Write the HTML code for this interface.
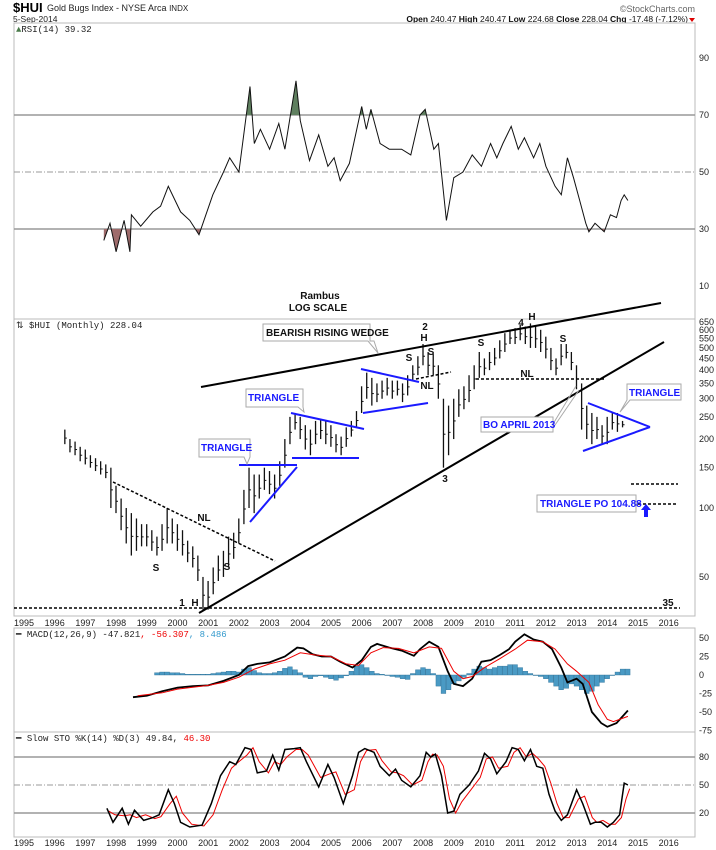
<!DOCTYPE html>
<html><head><meta charset="utf-8"><style>
body{margin:0;background:#fff}
svg{display:block;font-family:"Liberation Sans",sans-serif}
.ax{font-size:9px;fill:#222}
.an{font-size:10px;font-weight:bold;fill:#111}
.bl{font-size:10px;font-weight:bold;fill:#1a1aff}
</style></head><body>
<svg id="c" width="716" height="850" viewBox="0 0 716 850">
<rect width="716" height="850" fill="#fff"/>
<text x="13" y="12" font-size="13" font-weight="bold">$HUI</text>
<text x="47" y="11" font-size="9" fill="#222">Gold Bugs Index - NYSE Arca <tspan font-size="8">INDX</tspan></text>
<text x="13" y="22" font-size="8.5" fill="#222">5-Sep-2014</text>
<text x="695" y="12" font-size="9" fill="#666" text-anchor="end">©StockCharts.com</text>
<text x="688" y="22" font-size="8.5" fill="#111" text-anchor="end"><tspan font-weight="bold">Open</tspan> 240.47 <tspan font-weight="bold">High</tspan> 240.47 <tspan font-weight="bold">Low</tspan> 224.68 <tspan font-weight="bold">Close</tspan> 228.04 <tspan font-weight="bold">Chg</tspan> -17.48 (-7.12%)</text>
<polygon points="689,18 695,18 692,22" fill="#d00"/>
<g id="frames" fill="none" stroke="#bbb" stroke-width="1">
<rect x="14" y="23" width="681" height="296"/>
<rect x="14" y="319" width="681" height="297"/>
<rect x="14" y="628" width="681" height="104"/>
<rect x="14" y="732" width="681" height="105"/>
</g>
<text x="16" y="32" font-size="9" font-family="Liberation Mono" fill="#222"><tspan fill="#4a7a4a">▲</tspan>RSI(14) 39.32</text>
<text x="16" y="328" font-size="9" font-family="Liberation Mono" fill="#222">⇅ $HUI (Monthly) 228.04</text>
<text x="16" y="637" font-size="9" font-family="Liberation Mono" fill="#222">━ MACD(12,26,9) -47.821<tspan fill="#e00">, -56.307</tspan><tspan fill="#3399cc">, 8.486</tspan></text>
<text x="16" y="741" font-size="9" font-family="Liberation Mono" fill="#222">━ Slow STO %K(14) %D(3) 49.84, <tspan fill="#e00">46.30</tspan></text>
<text x="320" y="299" class="an" text-anchor="middle" font-size="9">Rambus</text>
<text x="318" y="311" class="an" text-anchor="middle" font-size="9">LOG SCALE</text>
<g id="rsi"></g><g id="price"></g><g id="macd"></g><g id="sto"></g><g id="axes"></g>
<g id="annot">
<line x1="201" y1="387" x2="661" y2="303" stroke="#000" stroke-width="2"/>
<line x1="199" y1="613" x2="664" y2="342" stroke="#000" stroke-width="2"/>
<line x1="113" y1="482" x2="275" y2="561" stroke="#000" stroke-width="1.5" stroke-dasharray="3,2"/>
<line x1="416" y1="379" x2="451" y2="372" stroke="#000" stroke-width="1.5" stroke-dasharray="3,2"/>
<line x1="476" y1="379" x2="604" y2="379" stroke="#000" stroke-width="1.5" stroke-dasharray="3,2"/>
<line x1="14" y1="608" x2="680" y2="608" stroke="#000" stroke-width="1.5" stroke-dasharray="3,2"/>
<line x1="631" y1="484" x2="678" y2="484" stroke="#000" stroke-width="1.5" stroke-dasharray="3,2"/>
<line x1="638" y1="504" x2="678" y2="504" stroke="#000" stroke-width="1.5" stroke-dasharray="3,2"/>
<polygon points="646,504 641,510 644,510 644,517 648,517 648,510 651,510" fill="#1a1aff"/>
<g stroke="#1a1aff" stroke-width="2">
<line x1="588" y1="403" x2="650" y2="427"/>
<line x1="583" y1="451" x2="650" y2="427"/>
<line x1="361" y1="369" x2="419" y2="382"/>
<line x1="363" y1="413" x2="428" y2="403"/>
<line x1="291" y1="413" x2="364" y2="429"/>
<line x1="292" y1="458" x2="359" y2="458"/>
<line x1="239" y1="465" x2="297" y2="465"/>
<line x1="250" y1="522" x2="297" y2="467"/>
</g>
<g fill="#fff" stroke="#aaa" stroke-width="1">
<path d="M263,324 H370 V341 H374 L378,353 L368,341 H263 Z"/>
<path d="M199,439 H250 V457 L247,464 L244,457 H199 Z"/>
<path d="M246,389 H303 V407 L304,412 L298,407 H246 Z"/>
<path d="M481,417 H553 V432 H481 Z"/>
<path d="M553,424 L576,386 M553,428 L579,390"/>
<path d="M627,384 H681 V400 H630 L620,412 L627,400 Z"/>
<path d="M537,495 H636 V512 H537 Z"/>
</g>
<text x="266" y="336" class="an" font-size="9">BEARISH RISING WEDGE</text>
<text x="201" y="451" class="bl">TRIANGLE</text>
<text x="248" y="401" class="bl">TRIANGLE</text>
<text x="483" y="428" class="bl" font-size="9">BO APRIL 2013</text>
<text x="629" y="396" class="bl">TRIANGLE</text>
<text x="540" y="507" class="bl" font-size="9">TRIANGLE PO 104.88</text>
<g class="an" font-size="9" text-anchor="middle">
<text x="425" y="330">2</text>
<text x="424" y="341">H</text>
<text x="409" y="361">S</text>
<text x="431" y="355">S</text>
<text x="427" y="389">NL</text>
<text x="521" y="326">4</text>
<text x="532" y="320">H</text>
<text x="481" y="346">S</text>
<text x="563" y="342">S</text>
<text x="527" y="377">NL</text>
<text x="445" y="482">3</text>
<text x="204" y="521">NL</text>
<text x="156" y="571">S</text>
<text x="227" y="570">S</text>
<text x="182" y="606">1</text>
<text x="195" y="606">H</text>
<text x="668" y="606">35</text>
</g>
</g>
</svg>
<script>
// ---- data ----
const priceStart = 1996.33;
const priceHigh = [220,200,195,185,
180,170,165,160,155,150,
125,110,100,95,90,85,
85,80,75,85,100,90,
85,80,72,68,62,50,
48,55,62,65,75,78,
90,120,150,140,140,150,
145,140,160,200,250,260,
250,230,220,240,245,240,
230,210,205,225,240,265,
340,390,370,350,360,370,
360,360,350,380,420,460,
520,480,470,420,300,280,
300,330,340,380,420,480,
450,480,500,540,580,600,
610,630,620,640,620,600,
560,500,450,520,520,480,
420,350,280,260,250,230,
250,260,260,240];
const priceLow = [190,175,170,160,
155,150,145,140,135,100,
95,80,70,62,65,68,
68,65,62,65,70,70,
65,62,58,55,48,36,
36,42,48,50,55,60,
70,85,100,95,110,120,
115,110,125,150,190,220,
200,180,170,190,200,190,
185,175,170,185,205,225,
260,300,280,290,300,310,
300,310,290,310,360,380,
420,380,380,300,150,170,
200,250,270,290,330,370,
380,400,420,450,480,520,
520,540,520,500,500,480,
450,400,380,420,450,400,
330,220,200,190,200,190,
190,220,215,225];
const rsiDates = [1997.6,1997.8,1998.0,1998.26,1998.45,1998.5,1998.8,1999.2,1999.45,1999.7,2000.1,2000.4,2000.7,2001.15,2001.5,2001.7,2002.0,2002.36,2002.5,2002.7,2003.0,2003.3,2003.5,2003.86,2004.0,2004.3,2004.6,2004.9,2005.1,2005.3,2005.6,2006.0,2006.15,2006.3,2006.6,2006.9,2007.3,2007.6,2007.9,2008.07,2008.35,2008.5,2008.76,2009.0,2009.3,2009.6,2009.9,2010.2,2010.4,2010.6,2010.87,2011.1,2011.3,2011.6,2011.8,2012.0,2012.3,2012.5,2012.7,2012.9,2013.1,2013.3,2013.4,2013.6,2013.9,2014.1,2014.3,2014.45,2014.55,2014.67];
const rsiValues = [26,32,22,33,22,35,31,36,38,45,36,33,28,42,50,55,50,80,60,65,58,67,58,82,68,54,63,52,55,47,53,73,65,72,60,58,58,56,70,72,58,60,33,48,50,56,52,60,55,60,66,58,62,55,60,52,45,42,55,48,40,32,29,32,29,35,34,40,42,40];
const macdDates = [1998.55,1999.0,1999.5,2000.0,2000.5,2001.0,2001.5,2002.0,2002.3,2002.6,2003.0,2003.5,2003.9,2004.1,2004.4,2004.7,2005.0,2005.3,2005.7,2006.0,2006.3,2006.5,2006.9,2007.3,2007.7,2007.9,2008.2,2008.5,2008.8,2009.0,2009.3,2009.6,2009.9,2010.2,2010.5,2010.8,2011.0,2011.3,2011.6,2011.9,2012.2,2012.5,2012.7,2013.0,2013.2,2013.5,2013.8,2014.0,2014.3,2014.67];
const macdValues = [-30,-28,-22,-17,-15,-14,-8,0,12,15,17,25,37,36,28,25,25,18,10,20,38,42,37,33,26,35,45,38,5,-12,-15,-5,18,20,27,35,45,55,48,45,35,10,-10,-5,-12,-50,-65,-70,-65,-48];
const signalDates = [1998.7,1999.5,2000.0,2001.0,2001.5,2002.0,2002.5,2003.0,2003.5,2004.0,2004.5,2005.0,2005.5,2005.9,2006.3,2006.7,2007.2,2007.7,2008.2,2008.6,2009.0,2009.3,2009.6,2010.0,2010.5,2011.0,2011.4,2011.9,2012.3,2012.7,2013.0,2013.4,2013.7,2014.0,2014.2,2014.67];
const signalValues = [-28,-24,-19,-14,-10,-3,8,15,20,30,27,25,15,13,30,37,36,30,38,36,5,-5,-2,10,22,35,47,45,35,15,5,-10,-40,-60,-63,-56];
const histStart = 1999.33;
const histValues = [3,4,4,3,
3,2,1,1,1,1,
1,2,3,4,5,5,
4,8,10,6,3,2,
2,3,5,9,11,7,
3,-3,-5,-2,-1,-3,
-5,-7,-4,-1,5,12,
14,10,5,2,1,0,
-2,-3,-5,-6,2,7,
10,8,2,-15,-25,-20,
-12,-8,-3,2,8,12,
10,8,10,12,12,14,
14,10,5,2,0,-2,
-5,-10,-15,-20,-18,-12,
-15,-20,-25,-22,-15,-10,
-5,0,4,8,8];
const stoDates = [1997.7,1997.9,1998.2,1998.4,1998.6,1998.9,1999.2,1999.4,1999.7,1999.9,2000.1,2000.4,2000.8,2001.1,2001.4,2001.7,2001.9,2002.2,2002.4,2002.6,2002.9,2003.1,2003.3,2003.5,2003.8,2004.0,2004.2,2004.6,2004.9,2005.1,2005.4,2005.7,2005.9,2006.1,2006.4,2006.6,2006.9,2007.1,2007.3,2007.6,2007.9,2008.1,2008.25,2008.4,2008.6,2008.8,2009.0,2009.2,2009.5,2009.8,2010.0,2010.2,2010.4,2010.7,2010.9,2011.1,2011.3,2011.5,2011.7,2011.9,2012.1,2012.3,2012.5,2012.7,2013.0,2013.2,2013.45,2013.6,2013.8,2014.0,2014.2,2014.4,2014.55,2014.67];
const stoK = [25,10,25,8,23,12,15,18,45,30,10,5,7,30,60,75,72,90,88,63,65,82,66,88,89,90,75,48,72,58,30,60,85,89,85,70,60,67,55,48,60,85,80,83,60,20,22,40,50,65,84,78,62,75,90,88,76,88,70,68,40,22,12,18,45,30,8,10,10,5,10,18,52,50];
const stoD = [22,18,17,18,15,18,14,16,30,38,20,8,6,18,45,68,74,82,90,75,63,75,72,80,88,88,82,58,62,64,40,45,75,87,88,76,64,63,60,50,55,75,83,82,70,35,20,32,45,58,78,80,68,70,85,90,80,84,78,70,52,30,15,15,35,38,15,10,12,8,8,15,35,46];
const years = [1995,1996,1997,1998,1999,2000,2001,2002,2003,2004,2005,2006,2007,2008,2009,2010,2011,2012,2013,2014,2015,2016];
const priceTicks = [650,600,550,500,450,400,350,300,250,200,150,100,50];
const rsiTicks = [90,70,50,30,10];
const macdTicks = [50,25,0,-25,-50,-75];
const stoTicks = [80,50,20];

// ---- scales ----
const NS='http://www.w3.org/2000/svg';
const X = t => 24 + (t-1995)*30.7;
const yP = p => 508 - 229*Math.log10(p/100);
const yR = v => 172 - (v-50)*2.85;
const yM = v => 675 - v*0.74;
const yS = v => 757 + (80-v)*0.933;
function mk(tag, parent){const e=document.createElementNS(NS,tag);document.getElementById(parent).appendChild(e);return e;}
function pts(d,v,fy){let s=[];const n=Math.min(d.length,v.length);for(let i=0;i<n;i++)s.push(X(d[i]).toFixed(1)+','+fy(v[i]).toFixed(1));return s;}

// RSI levels
[[70,'none'],[30,'none'],[50,'6,2,1,2']].forEach(([v,da])=>{
  const l=mk('line','rsi');
  
  
  l.setAttribute('x1',14);l.setAttribute('x2',695);l.setAttribute('y1',yR(v));l.setAttribute('y2',yR(v));
  l.setAttribute('stroke','#999');l.setAttribute('stroke-width',v==50?1:1.5);l.setAttribute('stroke-dasharray',da);
});
const rp = pts(rsiDates,rsiValues,yR);
const first=X(rsiDates[0]), last=X(rsiDates[Math.min(rsiDates.length,rsiValues.length)-1]);
const defs=mk('defs','rsi');
defs.innerHTML='<clipPath id="cLow"><rect x="0" y="'+yR(30)+'" width="716" height="100"/></clipPath><clipPath id="cHigh"><rect x="0" y="0" width="716" height="'+yR(70)+'"/></clipPath>';
const fl=mk('polygon','rsi');


fl.setAttribute('points',rp.join(' ')+' '+last+','+yR(30)+' '+first+','+yR(30));
fl.setAttribute('fill','#9e6b6b');fl.setAttribute('clip-path','url(#cLow)');
const fh=mk('polygon','rsi');


fh.setAttribute('points',rp.join(' ')+' '+last+','+yR(70)+' '+first+','+yR(70));
fh.setAttribute('fill','#5f7f5f');fh.setAttribute('clip-path','url(#cHigh)');
const rl=mk('polyline','rsi');


rl.setAttribute('points',rp.join(' '));rl.setAttribute('fill','none');rl.setAttribute('stroke','#111');rl.setAttribute('stroke-width','1');

// price bars
const nB=Math.min(priceHigh.length,priceLow.length);
for(let i=0;i<nB;i++){
  const t=priceStart+i/6, x=X(t);
  const b=mk('line','price');
  
  
  b.setAttribute('x1',x);b.setAttribute('x2',x);b.setAttribute('y1',yP(priceHigh[i]));b.setAttribute('y2',yP(priceLow[i]));
  b.setAttribute('stroke','#111');b.setAttribute('stroke-width','1.3');
  const c=(priceHigh[i]*0.4+priceLow[i]*0.6);
  const tk=mk('line','price');
  
  
  tk.setAttribute('x1',x);tk.setAttribute('x2',x+2);tk.setAttribute('y1',yP(c));tk.setAttribute('y2',yP(c));
  tk.setAttribute('stroke','#111');
}

// MACD
histValues.forEach((v,i)=>{
  const x=X(histStart+i/6);
  const r=mk('rect','macd');
  
  
  r.setAttribute('x',x-2.4);r.setAttribute('width',4.8);
  r.setAttribute('y',Math.min(yM(v),yM(0)));r.setAttribute('height',Math.max(0.5,Math.abs(yM(v)-yM(0))));
  r.setAttribute('fill','#4a9ac4');r.setAttribute('stroke','#2b6f96');r.setAttribute('stroke-width','0.4');
});
const ml=mk('polyline','macd');


ml.setAttribute('points',pts(macdDates,macdValues,yM).join(' '));ml.setAttribute('fill','none');ml.setAttribute('stroke','#000');ml.setAttribute('stroke-width','1.8');
const sl=mk('polyline','macd');


sl.setAttribute('points',pts(signalDates,signalValues,yM).join(' '));sl.setAttribute('fill','none');sl.setAttribute('stroke','#e00');sl.setAttribute('stroke-width','1');

// STO
[[80,'none'],[20,'none'],[50,'6,2,1,2']].forEach(([v,da])=>{
  const l=mk('line','sto');
  
  
  l.setAttribute('x1',14);l.setAttribute('x2',695);l.setAttribute('y1',yS(v));l.setAttribute('y2',yS(v));
  l.setAttribute('stroke','#999');l.setAttribute('stroke-width',v==50?1:1.5);l.setAttribute('stroke-dasharray',da);
});
const dl=mk('polyline','sto');


dl.setAttribute('points',pts(stoDates.map(d=>d+0.06),stoD,yS).join(' '));dl.setAttribute('fill','none');dl.setAttribute('stroke','#e00');dl.setAttribute('stroke-width','1');
const kl=mk('polyline','sto');


kl.setAttribute('points',pts(stoDates,stoK,yS).join(' '));kl.setAttribute('fill','none');kl.setAttribute('stroke','#000');kl.setAttribute('stroke-width','1.5');

// axes
function tx(s,x,y,anchor,name){const t=mk('text','axes');
  
  
  t.setAttribute('x',x);t.setAttribute('y',y);t.setAttribute('class','ax');t.setAttribute('text-anchor',anchor);t.textContent=s;}
years.forEach(yr=>{tx(String(yr),X(yr),626,'middle','price-year-label');tx(String(yr),X(yr),846,'middle','sto-year-label');});
priceTicks.forEach(v=>tx(String(v),699,yP(v)+3,'start','price-tick-label'));
rsiTicks.forEach(v=>tx(String(v),699,yR(v)+3,'start','rsi-tick-label'));
macdTicks.forEach(v=>tx(String(v),699,yM(v)+3,'start','macd-tick-label'));
stoTicks.forEach(v=>tx(String(v),699,yS(v)+3,'start','sto-tick-label'));
</script>
</body></html>
